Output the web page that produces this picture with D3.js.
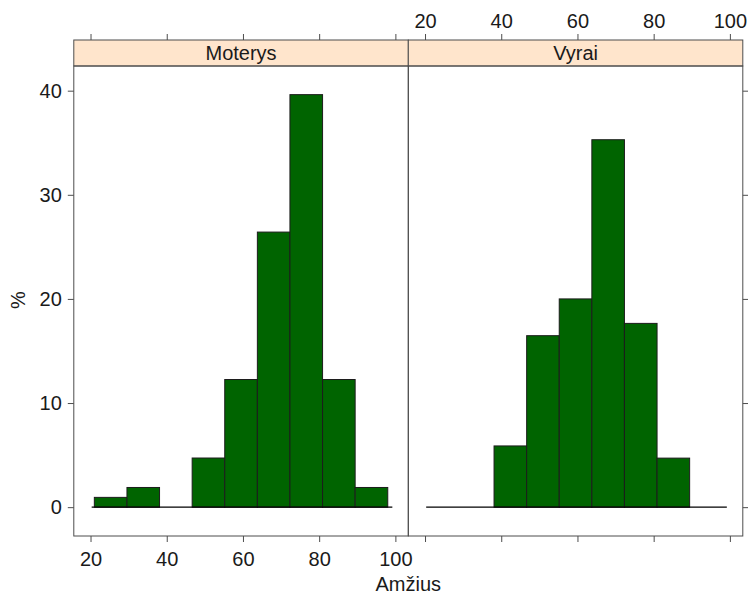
<!DOCTYPE html>
<html>
<head>
<meta charset="utf-8">
<title>Amžius histogram</title>
<script src="https://d3js.org/d3.v7.min.js"></script>
<style>
  body { margin: 0; background: #fff; }
  text { font-family: Arial, "Liberation Sans", sans-serif; fill: #1a1a1a; }
</style>
</head>
<body>
<div id="chart"></div>
<script>
// panels (lattice strips)
var panelNames = ["Moterys", "Vyrai"];
// common histogram breaks (age)
var breaks = [21, 29.56, 38.11, 46.67, 55.22, 63.78, 72.33, 80.89, 89.44, 98];
// percent per bin
var moterys = [0.94, 1.89, 0, 4.72, 12.26, 26.42, 39.62, 12.26, 1.89];
var vyrai = [0, 0, 5.88, 16.47, 20.0, 35.29, 17.65, 4.71, 0];
var xTicks = [20, 40, 60, 80, 100];
var yTicks = [0, 10, 20, 30, 40];
var xDomain = [15.61, 103.39];
var yDomain = [-2.77, 42.37];
var baseline = [20.3, 99.2];

var W = 748, H = 597;
var panelW = 334.5, left = 73.8;
var stripTop = 40, stripBottom = 66, panelBottom = 536;
var font = "Arial, 'Liberation Sans', sans-serif";

var svg = d3.select("#chart").append("svg")
    .attr("width", W).attr("height", H);

var y = d3.scaleLinear().domain(yDomain).range([panelBottom, stripBottom]);

var series = [moterys, vyrai];

panelNames.forEach(function (name, i) {
  var x0 = left + i * panelW;
  var x = d3.scaleLinear().domain(xDomain).range([x0, x0 + panelW]);
  var g = svg.append("g");

  // strip
  g.append("rect")
      .attr("x", x0).attr("y", stripTop)
      .attr("width", panelW).attr("height", stripBottom - stripTop)
      .attr("fill", "#ffe5cc").attr("stroke", "#4d4d4d").attr("stroke-width", 1);
  g.append("text")
      .attr("x", x0 + panelW / 2).attr("y", stripTop + 20)
      .attr("text-anchor", "middle").attr("font-size", 20)
      .text(name);

  // bars
  var bins = series[i].map(function (v, k) {
    return {x0: breaks[k], x1: breaks[k + 1], v: v};
  });
  g.selectAll("rect.bar").data(bins.filter(function (d) { return d.v > 0; }))
    .enter().append("rect")
      .attr("class", "bar")
      .attr("x", function (d) { return x(d.x0); })
      .attr("width", function (d) { return x(d.x1) - x(d.x0); })
      .attr("y", function (d) { return y(d.v); })
      .attr("height", function (d) { return y(0) - y(d.v); })
      .attr("fill", "#006400").attr("stroke", "#1c1c1c").attr("stroke-width", 1);

  // baseline at 0
  g.append("line")
      .attr("x1", x(baseline[0])).attr("x2", x(baseline[1]))
      .attr("y1", y(0)).attr("y2", y(0))
      .attr("stroke", "#000").attr("stroke-width", 1.2);

  // panel frame
  g.append("rect")
      .attr("x", x0).attr("y", stripBottom)
      .attr("width", panelW).attr("height", panelBottom - stripBottom)
      .attr("fill", "none").attr("stroke", "#4d4d4d").attr("stroke-width", 1);

  // bottom axis: labels only on the left panel
  var bottom = g.append("g")
      .attr("transform", "translate(0," + panelBottom + ")")
      .call(d3.axisBottom(x).tickValues(xTicks).tickSize(6).tickPadding(10)
        .tickFormat(i === 0 ? d3.format("d") : function () { return ""; }));
  // top axis: labels only on the right panel
  var top = g.append("g")
      .attr("transform", "translate(0," + stripTop + ")")
      .call(d3.axisTop(x).tickValues(xTicks).tickSize(6).tickPadding(6)
        .tickFormat(i === 1 ? d3.format("d") : function () { return ""; }));
  [bottom, top].forEach(function (a) {
    a.select(".domain").remove();
    a.selectAll("line").attr("stroke", "#4d4d4d");
    a.selectAll("text").attr("font-size", 20).attr("fill", "#1a1a1a")
      .style("font-family", font);
  });
});

// y axes
var yl = svg.append("g")
    .attr("transform", "translate(" + left + ",0)")
    .call(d3.axisLeft(y).tickValues(yTicks).tickSize(6).tickPadding(6));
var yr = svg.append("g")
    .attr("transform", "translate(" + (left + 2 * panelW) + ",0)")
    .call(d3.axisRight(y).tickValues(yTicks).tickSize(6).tickFormat(function () { return ""; }));
[yl, yr].forEach(function (a) {
  a.select(".domain").remove();
  a.selectAll("line").attr("stroke", "#4d4d4d");
  a.selectAll("text").attr("font-size", 20).attr("fill", "#1a1a1a")
    .style("font-family", font);
});

// axis titles
svg.append("text")
    .attr("x", left + panelW).attr("y", 591)
    .attr("text-anchor", "middle").attr("font-size", 20)
    .text("Amžius");
svg.append("text")
    .attr("transform", "translate(25,300) rotate(-90)")
    .attr("text-anchor", "middle").attr("font-size", 20)
    .text("%");
</script>
</body>
</html>
